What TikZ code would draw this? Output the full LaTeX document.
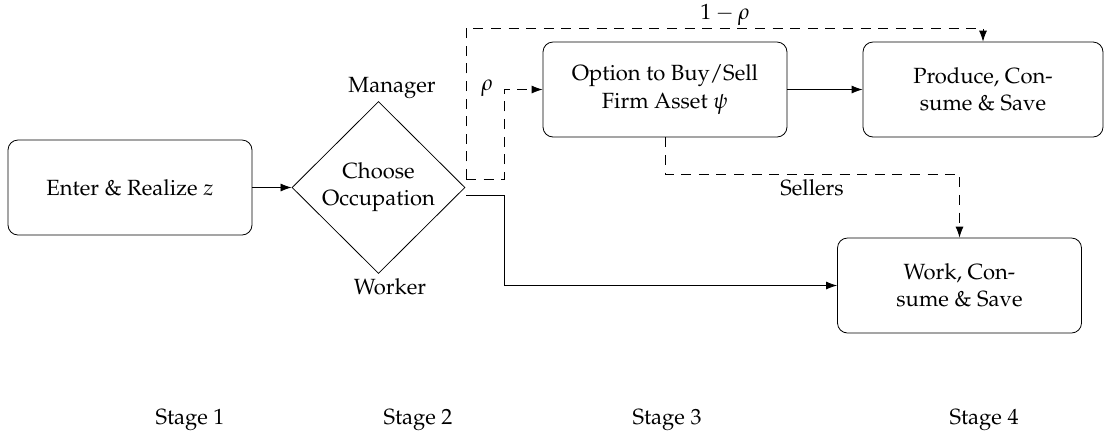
\documentclass[tikz,border=0pt]{standalone}
\usepackage[T1]{fontenc}
\usepackage{mathpazo}
\usetikzlibrary{shapes.geometric,arrows.meta}

\begin{document}
\begin{tikzpicture}[x=0.5pt,y=-0.5pt,
  font=\fontsize{11}{13.6}\selectfont,
  stagebox/.style={draw,rounded corners=5pt,minimum width=122pt,minimum height=47.5pt,align=center,inner sep=0pt},
  choice/.style={draw,diamond,aspect=1,minimum width=86.5pt,minimum height=86pt,inner sep=0pt,align=center},
  flow/.style={-{Latex[length=5.5pt,width=4pt]}},
  branch/.style={flow,dash pattern=on 5pt off 3.8pt},
  tag/.style={inner sep=0pt}]
\useasboundingbox (0,0) rectangle (1104,436);

% decision nodes and stages
\node[stagebox] (enter) at (130,187.5) {Enter \& Realize $z$};
\node[choice] (occ) at (378.5,187.5) {Choose\\Occupation};
\node[stagebox] (option) at (665,89.5) {Option to Buy/Sell\\Firm Asset $\psi$};
\node[stagebox,minimum width=120pt] (produce) at (983,89.5) {Produce, Con-\\sume \& Save};
\node[stagebox] (work) at (959.5,285.5) {Work, Con-\\sume \& Save};

% labels
\node[tag] (mgr) at (392,88) {Manager};
\node[tag] (wkr) at (390,287) {Worker};
\node[tag] (onerho) at (725,15) {$1-\rho$};
\node[tag] (rho) at (487,88) {$\rho$};
\node[tag] (sell) at (812,188) {Sellers};

\node[tag] (s1) at (190,420) {Stage 1};
\node[tag] (s2) at (418,420) {Stage 2};
\node[tag] (s3) at (667,420) {Stage 3};
\node[tag] (s4) at (984,420) {Stage 4};

% turning points of the branches leaving the diamond
\coordinate (mgrstart) at (466,179);
\coordinate (mgrtop) at (466,28);
\coordinate (mgrturn) at (504,179);
\coordinate (wkrstart) at (466,195);
\coordinate (wkrturn) at (504,195);
\coordinate (sellturn) at (665,174);

% connectors
\draw[flow] (enter) -- (occ);
\draw[branch] (mgrstart) -- (mgrtop) -| (produce.north);
\draw[branch] (mgrstart) -- (mgrturn) |- (option.west);
\draw[flow] (wkrstart) -- (wkrturn) |- (work.west);
\draw[flow] (option) -- (produce);
\draw[branch] (option.south) -- (sellturn) -| (work.north);
\end{tikzpicture}
\end{document}
